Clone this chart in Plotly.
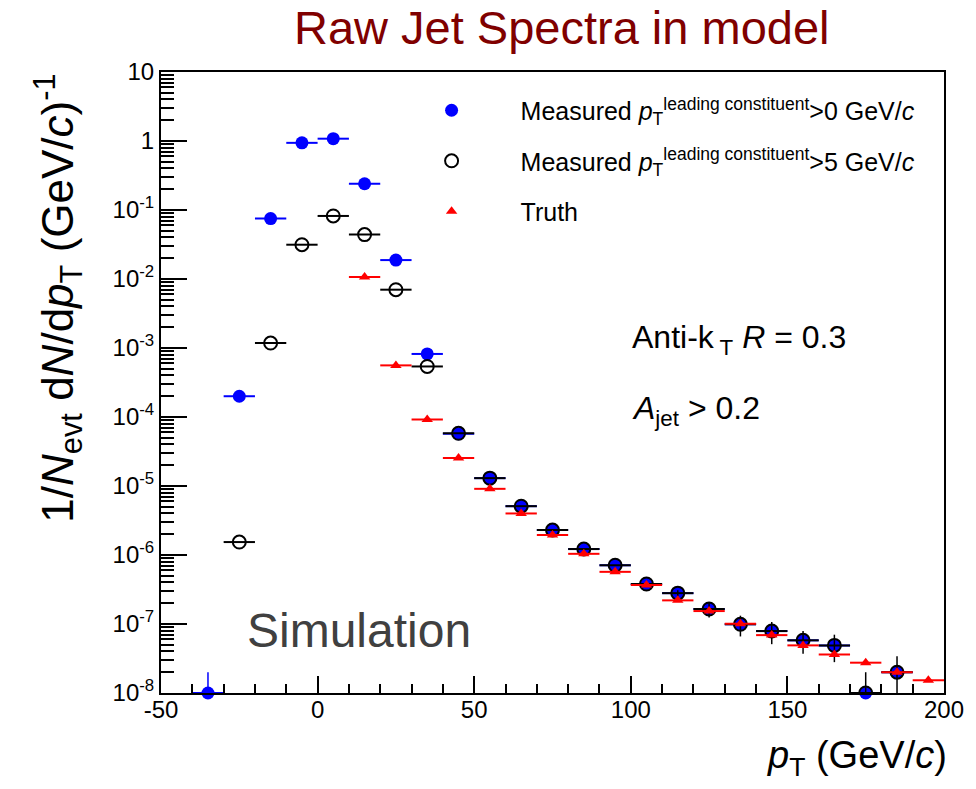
import plotly.graph_objects as go

# ---------------- data ----------------
x_meas0 = [-35, -25, -15, -5, 5, 15, 25, 35, 45, 55, 65, 75, 85, 95, 105, 115,
           125, 135, 145, 155, 165, 175, 185]
y_meas0 = [1.0e-8, 2.0e-4, 0.075, 0.94, 1.08, 0.24, 0.0188, 8.2e-4, 5.7e-5,
           1.3e-5, 5.1e-6, 2.3e-6, 1.22e-6, 7.1e-7, 3.76e-7, 2.8e-7, 1.65e-7,
           9.9e-8, 7.9e-8, 5.8e-8, 4.9e-8, 1.0e-8, 2.0e-8]
eyup_meas0 = [1.0e-8] + [0.0] * 22
eydn_meas0 = [0.0] * 23

x_meas5 = [-25, -15, -5, 5, 15, 25, 35, 45, 55, 65, 75, 85, 95, 105, 115,
           125, 135, 145, 155, 165, 175, 185]
y_meas5 = [1.54e-6, 1.18e-3, 0.0314, 0.082, 0.044, 7.0e-3, 5.4e-4, 5.8e-5,
           1.3e-5, 5.1e-6, 2.3e-6, 1.22e-6, 7.1e-7, 3.8e-7, 2.8e-7, 1.65e-7,
           9.9e-8, 7.9e-8, 5.8e-8, 4.9e-8, 1.0e-8, 2.0e-8]
eyup_meas5 = [0, 0, 0, 0, 0, 0, 0, 0, 0, 0, 0, 0, 0, 2.3e-8, 2.8e-8, 4.1e-8,
              3.3e-8, 2.8e-8, 2.1e-8, 2.1e-8, 1.0e-8, 1.4e-8]
eydn_meas5 = [0, 0, 0, 0, 0, 0, 0, 0, 0, 0, 0, 0, 0, 2.3e-8, 2.8e-8, 4.1e-8,
              3.3e-8, 2.8e-8, 2.1e-8, 2.1e-8, 0.0, 1.4e-8]

x_truth = [15, 25, 35, 45, 55, 65, 75, 85, 95, 105, 115, 125, 135, 145, 155,
           165, 175, 185, 195]
y_truth = [0.0107, 5.6e-4, 9.2e-5, 2.55e-5, 9.1e-6, 4.0e-6, 1.95e-6, 1.04e-6,
           5.7e-7, 3.67e-7, 2.2e-7, 1.54e-7, 1.01e-7, 6.9e-8, 4.9e-8, 3.6e-8,
           2.75e-8, 2.0e-8, 1.53e-8]

bin_half_width = 5

y_tickvals = [1e-8, 1e-7, 1e-6, 1e-5, 1e-4, 1e-3, 1e-2, 1e-1, 1, 10]
y_ticktext = ["10<sup>-8</sup>", "10<sup>-7</sup>", "10<sup>-6</sup>",
              "10<sup>-5</sup>", "10<sup>-4</sup>", "10<sup>-3</sup>",
              "10<sup>-2</sup>", "10<sup>-1</sup>", "1", "10"]
y_minor = [k * 10.0 ** e for e in range(-8, 1) for k in range(2, 10)]

FONT = "Liberation Sans, Arial, sans-serif"

fig = go.Figure()

fig.add_trace(go.Scatter(
    x=x_meas0, y=y_meas0, mode="markers",
    name="Measured <i>p</i><sub>T</sub><sup>leading constituent</sup>>0 GeV/<i>c</i>",
    marker=dict(symbol="circle", size=13, color="#0000ff"),
    error_x=dict(type="constant", value=bin_half_width, width=0,
                 thickness=2, color="#0000ff"),
    error_y=dict(type="data", array=eyup_meas0, arrayminus=eydn_meas0,
                 width=0, thickness=1.5, color="#0000ff"),
    cliponaxis=False, legendgroup="a",
))

fig.add_trace(go.Scatter(
    x=x_meas5, y=y_meas5, mode="markers",
    name="Measured <i>p</i><sub>T</sub><sup>leading constituent</sup>>5 GeV/<i>c</i>",
    marker=dict(symbol="circle-open", size=13, color="#000000",
                line=dict(width=2, color="#000000")),
    error_x=dict(type="constant", value=bin_half_width, width=0,
                 thickness=2, color="#000000"),
    error_y=dict(type="data", array=eyup_meas5, arrayminus=eydn_meas5,
                 width=0, thickness=1.5, color="#000000"),
    cliponaxis=True, legendgroup="b",
))

fig.add_trace(go.Scatter(
    x=x_truth, y=y_truth, mode="markers",
    name="Truth",
    marker=dict(symbol="triangle-up", size=10, color="#ff0000"),
    error_x=dict(type="constant", value=bin_half_width, width=0,
                 thickness=2, color="#ff0000"),
    cliponaxis=True, legendgroup="c",
))

L, R, T, B = 161, 27, 72, 96
fig.update_layout(
    width=976, height=789,
    margin=dict(l=L, r=R, t=T, b=B),
    paper_bgcolor="white", plot_bgcolor="white",
    font=dict(family=FONT, color="black", size=24),
    showlegend=True,
    legend=dict(x=0.283, y=0.975, xanchor="left", yanchor="top",
                bgcolor="rgba(0,0,0,0)", borderwidth=0,
                font=dict(size=25, family=FONT),
                itemwidth=128, tracegroupgap=15,
                itemclick=False),
)

fig.update_xaxes(
    range=[-50, 200], showgrid=False, zeroline=False,
    showline=True, linecolor="black", linewidth=2, mirror=True,
    ticks="inside", ticklen=17, tickwidth=1.5, tickcolor="black",
    tickmode="array", tickvals=[-50, 0, 50, 100, 150, 200],
    ticktext=["-50", "0", "50", "100", "150", "200"],
    tickfont=dict(size=24, family=FONT), ticklabelstandoff=-6,
    minor=dict(ticks="inside", ticklen=9, tickwidth=1.5, tickcolor="black",
               dtick=10, tick0=0, showgrid=False),
)
fig.update_yaxes(
    type="log", range=[-8, 1], showgrid=False, zeroline=False,
    showline=True, linecolor="black", linewidth=2, mirror=True,
    ticks="inside", ticklen=26, tickwidth=1.5, tickcolor="black",
    tickmode="array", tickvals=y_tickvals, ticktext=y_ticktext,
    tickfont=dict(size=24, family=FONT),
    minor=dict(ticks="inside", ticklen=13, tickwidth=1.5, tickcolor="black",
               tickmode="array", tickvals=y_minor, showgrid=False),
)

def px2paper_x(px):
    return (px - L) / (976 - L - R)

def py2paper_y(py):
    return (789 - B - py) / (789 - T - B)

ann = [
    dict(text="Raw Jet Spectra in model", x=px2paper_x(565), y=py2paper_y(28),
         xanchor="center", yanchor="middle",
         font=dict(size=47, color="#800000", family=FONT)),
    dict(text="Anti-k<sub> T</sub> <i>R</i> = 0.3", x=px2paper_x(633),
         y=py2paper_y(339), xanchor="left", yanchor="middle",
         font=dict(size=32, color="black", family=FONT)),
    dict(text="<i>A</i><sub>jet</sub> > 0.2", x=px2paper_x(633),
         y=py2paper_y(410), xanchor="left", yanchor="middle",
         font=dict(size=32, color="black", family=FONT)),
    dict(text="Simulation", x=px2paper_x(246), y=py2paper_y(630),
         xanchor="left", yanchor="middle",
         font=dict(size=48, color="#404040", family=FONT)),
    dict(text="1/<i>N</i><sub>evt</sub> d<i>N</i>/d<i>p</i><sub>T</sub> (GeV/<i>c</i>)<sup>-1</sup>",
         x=px2paper_x(57), y=py2paper_y(298), textangle=-90,
         xanchor="center", yanchor="middle",
         font=dict(size=44, color="black", family=FONT)),
    dict(text="<i>p</i><sub>T</sub> (GeV/<i>c</i>)", x=px2paper_x(954),
         y=py2paper_y(758), xanchor="right", yanchor="middle",
         font=dict(size=38, color="black", family=FONT)),
]
for a in ann:
    a.update(xref="paper", yref="paper", showarrow=False)
    fig.add_annotation(**a)

fig.write_html("out.html")
